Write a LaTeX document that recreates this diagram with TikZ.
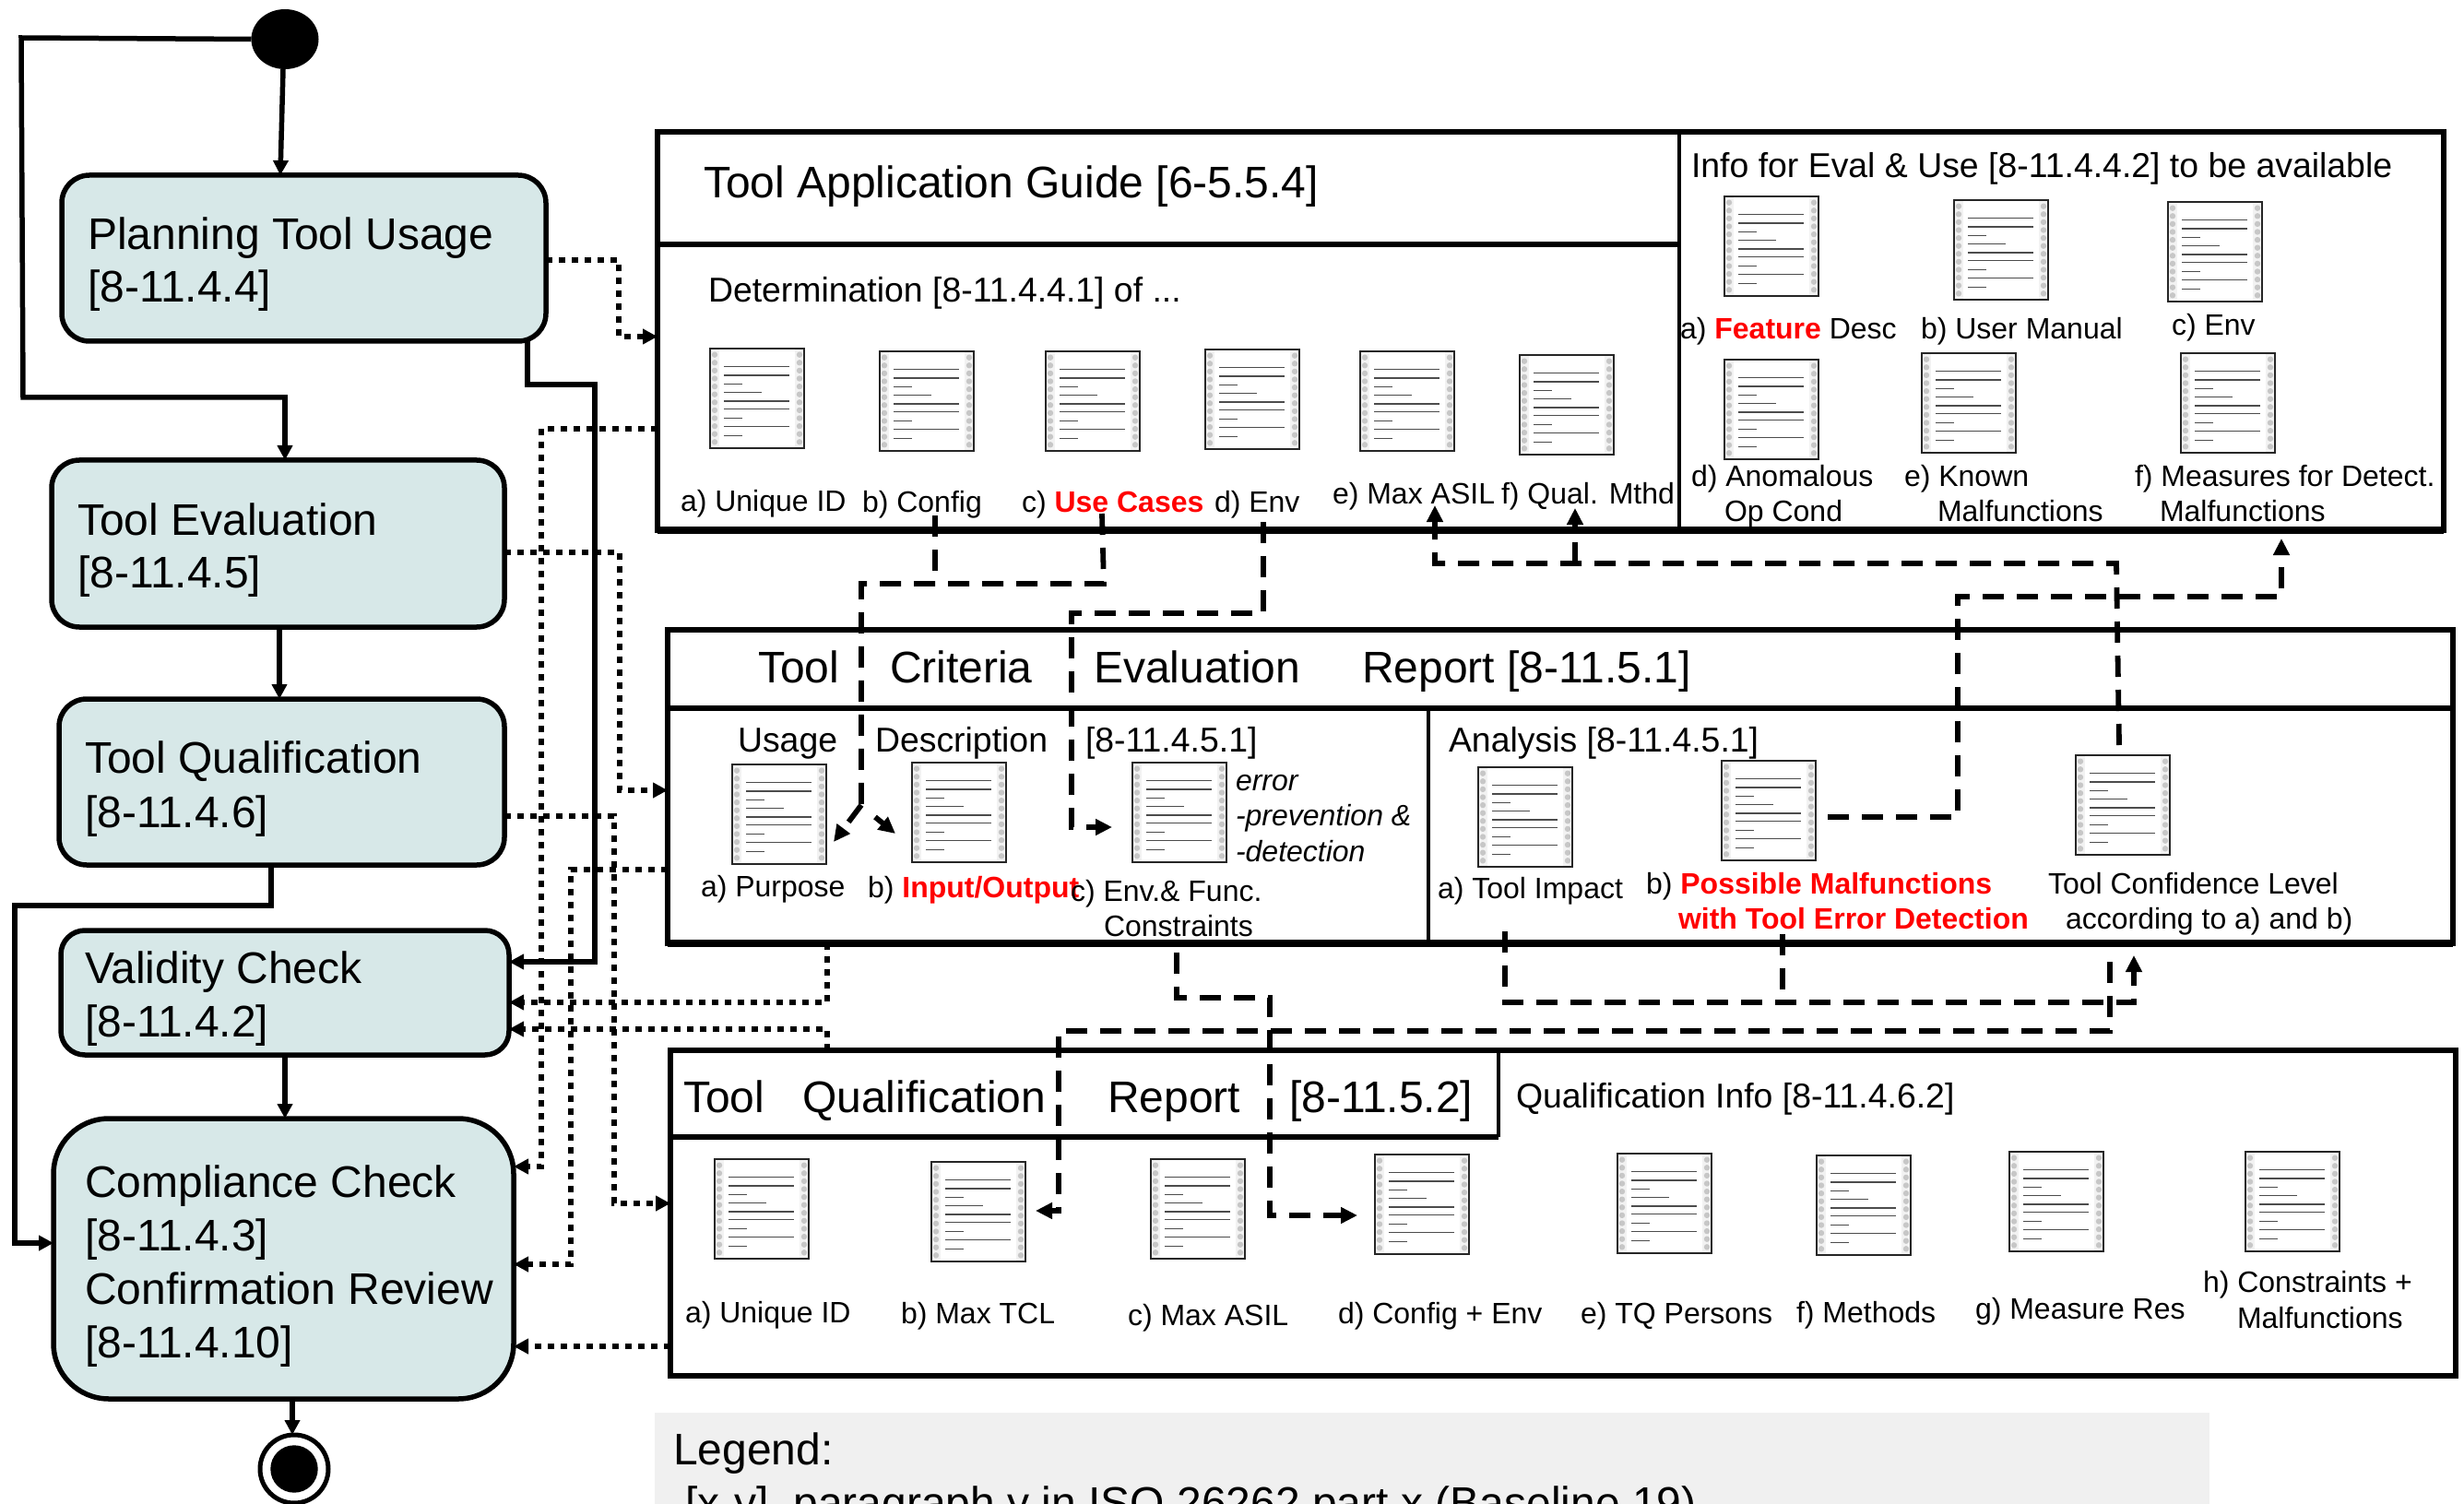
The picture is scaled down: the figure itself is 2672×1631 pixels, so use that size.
\documentclass[tikz,border=0pt]{standalone}
\usepackage{fontspec}
\setmainfont{Liberation Sans}
\usetikzlibrary{arrows.meta,shapes.geometric}
\definecolor{statefill}{HTML}{D7E8E8}
\definecolor{legendfill}{HTML}{F0F0F0}
\tikzset{
 statebox/.style={draw=black,fill=statefill,line width=2.75pt,rounded corners=#1,inner sep=0pt,outer sep=0pt,rectangle},
 framebox/.style={draw=black,line width=3pt,inner sep=0pt,outer sep=0pt,rectangle},
 docframe/.style={draw=black!85,fill=white,line width=0.8pt,minimum width=51pt,minimum height=54pt,inner sep=0pt,outer sep=0pt,rectangle},
 lab/.style={anchor=base west,inner sep=0pt,outer sep=0pt,text=black,yshift=-1pt},
 big/.style={lab,font=\fontsize{24}{28}\selectfont},
 mid/.style={lab,font=\fontsize{18.7}{23}\selectfont},
 small/.style={lab,font=\fontsize{16}{19}\selectfont},
 divider/.style={draw=black,line width=2pt},
 thick rule/.style={draw=black,line width=3.75pt},
 solidarrow/.style={draw=black,line width=2.75pt,-{Triangle[length=8pt,width=8pt]}},
 solidline/.style={draw=black,line width=2.75pt},
 dotarrow/.style={draw=black,line width=3pt,dash pattern=on 3.5pt off 3.5pt,-{Triangle[length=8pt,width=8pt]}},
 dashline/.style={draw=black,line width=2.9pt,dash pattern=on 11.5pt off 7pt},
 dasharrow/.style={dashline,-{Triangle[length=9pt,width=8.5pt]}},
}
\newcommand{\docicon}[3]{%
 \node[docframe] (#1) at ({#2+51},{#3+54}) {};
 \begin{scope}[shift={(#2,#3)}]
  \fill[black!5] (1,1) rectangle (10,107);
  \fill[black!5] (92,1) rectangle (101,107);
  \foreach \dy in {0,...,11}{
   \fill[black!22] (5,{6.7+\dy*8.6}) circle[radius=1.6pt];
   \fill[black!22] (97,{6.7+\dy*8.6}) circle[radius=1.6pt];
  }
  \foreach \ly/\le in {19.4/86,29/86,38.3/35,47.3/56,57/86,65.7/86,75.8/35,84.8/86,94.3/35}{
   \draw[black!70,line width=0.6pt] (15,\ly) -- (\le,\ly);
  }
 \end{scope}
 \draw[black!85,line width=0.8pt] (#1.south west) rectangle (#1.north east);
}
\newcommand{\pxbox}[6]{%
 \pgfmathsetmacro\bw{(#4-#2)*0.5}\pgfmathsetmacro\bh{(#5-#3)*0.5}%
 \node[#6,minimum width=\bw pt,minimum height=\bh pt] (#1) at ({(#2+#4)/2},{(#3+#5)/2}) {};
}
\begin{document}
\begin{tikzpicture}[x=0.5pt,y=-0.5pt]
\useasboundingbox (0,0) rectangle (2672,1631);
\clip (0,0) rectangle (2672,1631);

% ---- legend
\pxbox{legend}{710}{1532}{2396}{1660}{fill=legendfill,inner sep=0pt,outer sep=0pt,rectangle}
\node[big] (legendtitle) at (730,1586) {Legend:};
\node[big] (legendtext) at (743,1644) {[x-y], paragraph y in ISO 26262 part x (Baseline 19)};

% ---- start / end
\node[ellipse,fill=black,minimum width=36.5pt,minimum height=32.5pt,inner sep=0pt,outer sep=0pt] (start) at (309,42.5) {};
\node[circle,draw=black,fill=white,line width=2.5pt,minimum size=37pt,inner sep=0pt,outer sep=0pt] (endring) at (319,1593) {};
\node[circle,fill=black,minimum size=25.7pt,inner sep=0pt,outer sep=0pt] (enddot) at (319,1593) {};

% ---- states
\pxbox{planning}{67}{190}{592}{370}{statebox=15pt}
\pxbox{eval}{56}{499}{547}{680}{statebox=15pt}
\pxbox{qual}{64}{758}{547}{938}{statebox=15pt}
\pxbox{valid}{66}{1009}{552}{1144}{statebox=13pt}
\pxbox{comply}{58}{1213}{557}{1517}{statebox=30pt}
\node[big] (planninga) at (95,269) {Planning Tool Usage};
\node[big] (planningb) at (95,326) {[8-11.4.4]};
\node[big] (evala) at (84,578) {Tool Evaluation};
\node[big] (evalb) at (84,635) {[8-11.4.5]};
\node[big] (quala) at (92,836) {Tool Qualification};
\node[big] (qualb) at (92,895) {[8-11.4.6]};
\node[big] (valida) at (92,1064) {Validity Check};
\node[big] (validb) at (92,1122) {[8-11.4.2]};
\node[big] (complya) at (92,1296) {Compliance Check};
\node[big] (complyb) at (92,1354) {[8-11.4.3]};
\node[big] (complyc) at (92,1412) {Confirmation Review};
\node[big] (complyd) at (92,1470) {[8-11.4.10]};

% ---- tool application guide frame
\pxbox{tag}{713}{143}{2650}{575}{framebox}
\draw[thick rule] (tag.south west) -- (tag.south east);
\draw[divider] (1821,0 |- tag.north) -- (1821,0 |- tag.south);
\draw[divider,line width=2.75pt] (tag.west |- 0,265) -- (1821,265);
\node[big] (tagtitle) at (763,213) {Tool Application Guide [6-5.5.4]};
\node[mid] (tagdet) at (768,326) {Determination [8-11.4.4.1] of ...};
\node[mid] (taginfo) at (1834,191) {Info for Eval \& Use [8-11.4.4.2] to be available};
\docicon{ta}{770}{378}\docicon{tb}{954}{381}\docicon{tc}{1134}{381}
\docicon{td}{1307}{379}\docicon{te}{1475}{381}\docicon{tf}{1648}{385}
\node[small] (tal) at (738,552) {a) Unique ID};
\node[small] (tbl) at (935,553) {b) Config};
\node[small] (tcl) at (1108,553) {c) \textcolor{red}{\textbf{Use Cases}}};
\node[small] (tdl) at (1317,553) {d) Env};
\node[small] (tel) at (1445,544) {e) Max ASIL};
\node[small] (tfl) at (1628,544) {f) Qual. Mthd};
\docicon{ia}{1870}{213}\docicon{ib}{2119}{217}\docicon{ic}{2351}{219}
\docicon{id}{1870}{390}\docicon{ie}{2084}{383}\docicon{if}{2365}{383}
\node[small] (ial) at (1822,366) {a) \textcolor{red}{\textbf{Feature}} Desc};
\node[small] (ibl) at (2083,366) {b) User Manual};
\node[small] (icl) at (2355,362) {c) Env};
\node[small] (idl) at (1834,525) {d) Anomalous};
\node[small] (idm) at (1870,563) {Op Cond};
\node[small] (iel) at (2065,525) {e) Known};
\node[small] (iem) at (2101,563) {Malfunctions};
\node[small] (ifl) at (2315,525) {f) Measures for Detect.};
\node[small] (ifm) at (2342,563) {Malfunctions};

% ---- tool criteria evaluation report frame
\pxbox{tcer}{724}{683}{2660}{1023}{framebox}
\draw[thick rule] (tcer.south west) -- (tcer.south east);
\draw[divider,line width=2.75pt] (tcer.west |- 0,768) -- (tcer.east |- 0,768);
\draw[divider] (1549,768) -- (1549,0 |- tcer.south);
\node[big] (cra) at (822,738) {Tool};
\node[big] (crb) at (965,738) {Criteria};
\node[big] (crc) at (1186,738) {Evaluation};
\node[big] (crd) at (1477,738) {Report [8-11.5.1]};
\node[mid] (csa) at (800,813) {Usage};
\node[mid] (csb) at (949,813) {Description};
\node[mid] (csc) at (1177,813) {[8-11.4.5.1]};
\node[mid] (csd) at (1571,813) {Analysis [8-11.4.5.1]};
\docicon{ca}{794}{829}\docicon{cb}{989}{827}\docicon{cc}{1228}{827}
\docicon{cd}{1603}{832}\docicon{ce}{1867}{825}\docicon{cf}{2251}{819}
\node[small,font=\fontsize{16}{19}\selectfont\itshape] (cea) at (1340,855) {error};
\node[small,font=\fontsize{16}{19}\selectfont\itshape] (ceb) at (1340,893) {-prevention \&};
\node[small,font=\fontsize{16}{19}\selectfont\itshape] (cec) at (1340,932) {-detection};
\node[small] (cal) at (760,970) {a) Purpose};
\node[small] (cbl) at (941,971) {b) \textcolor{red}{\textbf{Input/Output}}};
\node[small] (ccl) at (1161,975) {c) Env.\& Func.};
\node[small] (ccm) at (1197,1013) {Constraints};
\node[small] (cdl) at (1559,972) {a) Tool Impact};
\node[small] (cel) at (1785,967) {b) \textcolor{red}{\textbf{Possible Malfunctions}}};
\node[small] (cem) at (1820,1005) {\textcolor{red}{\textbf{with Tool Error Detection}}};
\node[small] (cfl) at (2221,967) {Tool Confidence Level};
\node[small] (cfm) at (2240,1005) {according to a) and b)};

% ---- tool qualification report frame
\pxbox{tqr}{727}{1139}{2663}{1492}{framebox}
\draw[divider,line width=2.75pt] (tqr.west |- 0,1233) -- (1625,1233);
\draw[divider] (1625,0 |- tqr.north) -- (1625,1233);
\node[big] (qra) at (741,1204) {Tool};
\node[big] (qrb) at (870,1204) {Qualification};
\node[big] (qrc) at (1201,1204) {Report};
\node[big] (qrd) at (1398,1204) {[8-11.5.2]};
\node[mid] (qinfo) at (1644,1199) {Qualification Info [8-11.4.6.2]};
\docicon{qa}{775}{1257}\docicon{qb}{1010}{1260}\docicon{qc}{1248}{1257}\docicon{qd}{1491}{1252}
\docicon{qe}{1754}{1251}\docicon{qf}{1970}{1253}\docicon{qg}{2179}{1249}\docicon{qh}{2435}{1249}
\node[small] (qal) at (743,1432) {a) Unique ID};
\node[small] (qbl) at (977,1433) {b) Max TCL};
\node[small] (qcl) at (1223,1435) {c) Max ASIL};
\node[small] (qdl) at (1451,1433) {d) Config + Env};
\node[small] (qel) at (1714,1433) {e) TQ Persons};
\node[small] (qfl) at (1948,1432) {f) Methods};
\node[small] (qgl) at (2142,1428) {g) Measure Res};
\node[small] (qhl) at (2389,1399) {h) Constraints +};
\node[small] (qhm) at (2426,1438) {Malfunctions};

% ---- solid control flow
\draw[solidline] (start.west) -- (23,41) -- (25,431) -- (309,431) -- (309,470);
\draw[solidarrow] (309,431) -- (309,0 |- eval.north);
\draw[solidarrow] (start.south -| 307,0) -- (304,0 |- planning.north);
\draw[solidarrow] (303,0 |- eval.south) -- (303,0 |- qual.north);
\draw[solidarrow] (572,0 |- planning.south) -- (572,417) -- (645,417) -- (645,1043) -- (valid.east |- 0,1043);
\draw[solidarrow] (294,0 |- qual.south) -- (294,982) -- (16,982) -- (16,1348) -- (comply.west |- 0,1348);
\draw[solidarrow] (309,0 |- valid.south) -- (309,0 |- comply.north);
\draw[solidarrow] (317,0 |- comply.south) -- (317,0 |- endring.north);

% ---- dotted data flow
\draw[dotarrow] (planning.east |- 0,282) -- (671,282) -- (671,365) -- (tag.west |- 0,365);
\draw[dotarrow] (tag.west |- 0,465) -- (587,465) -- (587,1265) -- (comply.east |- 0,1265);
\draw[dotarrow] (eval.east |- 0,599) -- (672,599) -- (672,857) -- (tcer.west |- 0,857);
\draw[dotarrow] (qual.east |- 0,885) -- (666,885) -- (666,1305) -- (tqr.west |- 0,1305);
\draw[dotarrow] (tcer.west |- 0,943) -- (619,943) -- (619,1371) -- (comply.east |- 0,1371);
\draw[dotarrow] (897,0 |- tcer.south) -- (897,1087) -- (valid.east |- 0,1087);
\draw[dotarrow] (897,0 |- tqr.north) -- (897,1116) -- (valid.east |- 0,1116);
\draw[dotarrow] (tqr.west |- 0,1460) -- (comply.east |- 0,1460);

% ---- dashed cross references
\coordinate (dcfg) at (1014,559);
\coordinate (duse) at (1195,557);
\coordinate (denv) at (1370,566);
\coordinate (dfork) at (934,873);
\coordinate (dtcl) at (2298,808);
\coordinate (dmal) at (1982,886);
\coordinate (dimp) at (1632,1010);
\coordinate (dpos) at (1933,1013);
\coordinate (dcon) at (1276,1033);
\coordinate (dout) at (2288,1043);
\draw[dashline] (dcfg) -- (1014,633);
\draw[dashline] (duse) -- (1197,633) -- (934,633) -- (dfork);
\draw[dasharrow] (dfork) -- (904,913);
\draw[dasharrow] (949,886) -- (971,904);
\draw[dasharrow] (denv) -- (1370,665) -- (1162,665) -- (1162,897) -- (1206,897);
\draw[dasharrow] (dtcl) -- (2295,611) -- (1556,611) -- (1556,548);
\draw[dasharrow] (1708,611) -- (1708,551);
\draw[dasharrow] (dmal) -- (2123,886) -- (2123,647) -- (2474,647) -- (2474,584);
\draw[dasharrow] (dimp) -- (1632,1087) -- (2314,1087) -- (2314,1036);
\draw[dashline] (dpos) -- (1933,1087);
\draw[dasharrow] (dout) -- (2288,1118) -- (1148,1118) -- (1148,1313) -- (1123,1313);
\draw[dasharrow] (dcon) -- (1276,1082) -- (1377,1082) -- (1377,1318) -- (1472,1318);
\end{tikzpicture}
\end{document}
